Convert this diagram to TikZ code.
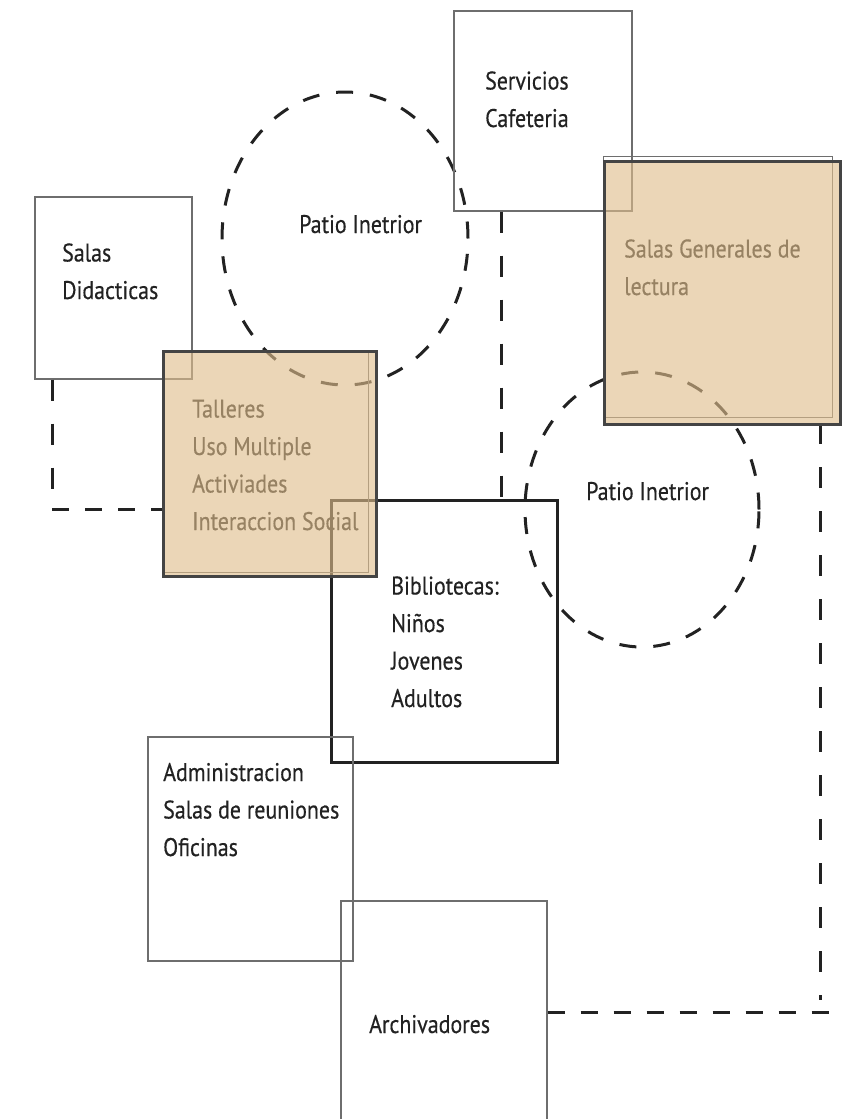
\documentclass[tikz,border=0pt]{standalone}
\usepackage{fontspec}
\setmainfont{PT Sans}[FakeStretch=0.86, FakeBold=0.4]
\usetikzlibrary{shapes.geometric}
\definecolor{boxgray}{HTML}{6E6E6E}
\definecolor{ink}{HTML}{222222}
\definecolor{frame}{HTML}{444444}
\definecolor{sand}{RGB}{224,190,140}
\tikzset{
  x=1pt, y=-1pt,
  room/.style={rectangle, draw=boxgray, line width=1.5pt, inner sep=0pt, anchor=north west},
  mainroom/.style={rectangle, draw=ink, line width=2.8pt, inner sep=0pt, anchor=north west},
  sandroom/.style={rectangle, draw=frame, line width=2.6pt, fill=sand, fill opacity=0.62,
                   inner sep=0pt, anchor=north west},
  sandedge/.style={rectangle, draw=boxgray, line width=1.3pt, inner sep=0pt, anchor=north west},
  patio/.style={ellipse, draw=ink, line width=3pt, dash pattern=on 17pt off 17pt, inner sep=0pt},
  % multi-line labels are placed by the baseline of their last line
  label/.style={inner sep=0pt, anchor=base west, align=left, text=ink,
                font=\fontsize{25.5}{37.5}\selectfont},
  vlink/.style={draw=ink, line width=3pt, dash pattern=on 21pt off 23pt},
  hlink/.style={draw=ink, line width=3pt, dash pattern=on 17pt off 16pt},
}
\begin{document}
\begin{tikzpicture}
\useasboundingbox (0,0) rectangle (843,1119);
\fill[white] (0,0) rectangle (843,1119);

% Salas Didacticas
\node[room, minimum width=157pt, minimum height=182pt] (did) at (34,196) {};
\node[label] (didt) at (62,299) {Salas\\Didacticas};

% first courtyard
\node[patio, minimum width=246pt, minimum height=293pt] (patio1) at (345,238.5) {};
\node[label] (patio1t) at (299,233) {Patio Inetrior};

% Servicios / Cafeteria
\node[room, minimum width=178pt, minimum height=200pt] (serv) at (453,10) {};
\node[label] (servt) at (485,127) {Servicios\\Cafeteria};

% Bibliotecas
\node[mainroom, minimum width=226pt, minimum height=262pt] (bib) at (330,499) {};
\node[label] (bibt) at (391,707) {Bibliotecas:\\Niños\\Jovenes\\Adultos};

% second courtyard
\node[patio, minimum width=234pt, minimum height=275pt] (patio2) at (642,509.5) {};
\node[label] (patio2t) at (586,500) {Patio Inetrior};

% Administracion
\node[room, minimum width=205pt, minimum height=224pt] (adm) at (147,736) {};
\node[label] (admt) at (163,856) {Administracion\\Salas de reuniones\\Oficinas};

% Archivadores (runs off the lower edge)
\node[room, minimum width=206pt, minimum height=224pt] (arch) at (340,900) {};
\node[label] (archt) at (369,1033) {Archivadores};

% dashed links
\coordinate (xdid) at (52,0);
\coordinate (ydid) at (0,509);
\draw[vlink] (xdid |- did.south) -- (xdid |- ydid);
\draw[hlink] (xdid |- ydid) -- (ydid -| 162,0);

\coordinate (xserv) at (501,0);
\draw[vlink] (xserv |- serv.south) -- (xserv |- bib.north);

\coordinate (xgen) at (820,0);
\coordinate (yend) at (0,1000);
\coordinate (harch) at (0,1012);
\coordinate (hend) at (833,1012);
\draw[vlink] (xgen |- 0,423) -- (xgen |- yend);
\draw[hlink] (arch.east |- harch) -- (hend);

% tinted rooms: texts and inner edges sit below the translucent fill
\node[sandedge, minimum width=206pt, minimum height=220pt] (talin) at (162,352) {};
\node[label] (talt) at (192,530) {Talleres\\Uso Multiple\\Activiades\\Interaccion Social};
\node[sandedge, minimum width=229pt, minimum height=261pt] (genin) at (603,156) {};
\node[label] (gent) at (624,295) {Salas Generales de\\lectura};

\node[sandroom, minimum width=213pt, minimum height=225pt] (tal) at (162,350) {};
\node[sandroom, minimum width=236pt, minimum height=263pt] (gen) at (603,160) {};
\end{tikzpicture}
\end{document}
